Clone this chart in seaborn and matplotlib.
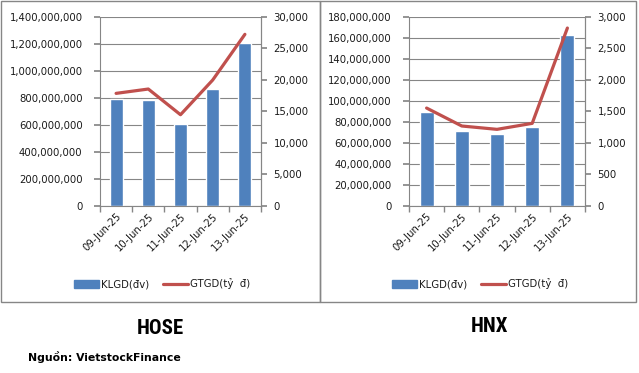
import matplotlib
matplotlib.use("Agg")
import matplotlib.pyplot as plt
import seaborn as sns
import pandas as pd
from matplotlib.patches import Rectangle
from matplotlib.lines import Line2D
from matplotlib.ticker import FuncFormatter, MultipleLocator

sns.set_theme(style="white")
plt.rcParams['font.family'] = ['DejaVu Sans']

# data
dates = ["09-Jun-25", "10-Jun-25", "11-Jun-25", "12-Jun-25", "13-Jun-25"]
hose_vol = [790e6, 783e6, 605e6, 864e6, 1205e6]
hose_val = [17830, 18520, 14440, 19950, 27200]
hnx_vol = [89.2e6, 71.1e6, 68.3e6, 74.9e6, 162.9e6]
hnx_val = [1550, 1265, 1212, 1307, 2820]

BLUE = "#4F81BD"
RED = "#C0504D"
GRID = "#868686"
TXT = "#1a1a1a"
NARROW = ["Liberation Sans Narrow", "DejaVu Sans Condensed", "Roboto Condensed",
          "Open Sans Condensed", "Arial Narrow", "DejaVu Sans"]

W, H = 639, 373
fig = plt.figure(figsize=(W / 100, H / 100), dpi=100)

comma = FuncFormatter(lambda v, p: f"{v:,.0f}")


def panel(x0, x1, vol, val, ymax, ystep, y2max, y2step, title, tx, ty, lx):
    ax = fig.add_axes([x0 / W, (H - 205.7) / H, (x1 - x0) / W, (205.7 - 16.7) / H])
    df = pd.DataFrame({"date": dates, "vol": vol, "val": val})
    sns.barplot(data=df, x="date", y="vol", color=BLUE, saturation=1, width=0.4, ax=ax)
    ax.set_ylim(0, ymax)
    ax.yaxis.set_major_locator(MultipleLocator(ystep))
    ax.yaxis.set_major_formatter(comma)
    ax.set_xlim(-0.5, 4.5)
    ax.grid(axis="y", color=GRID, lw=0.8)
    ax.set_axisbelow(True)
    ax.set_xlabel("")
    ax.set_ylabel("")
    ax2 = ax.twinx()
    sns.lineplot(x=list(range(5)), y=val, color=RED, lw=2.3, ax=ax2)
    ax2.set_ylim(0, y2max)
    ax2.yaxis.set_major_locator(MultipleLocator(y2step))
    ax2.yaxis.set_major_formatter(comma)
    for a in (ax, ax2):
        for s in a.spines.values():
            s.set_color(GRID)
            s.set_linewidth(0.8)
        a.spines["top"].set_visible(False)
    ax2.spines["left"].set_visible(False)
    ax2.spines["bottom"].set_visible(False)
    ax.tick_params(axis="y", left=True, length=4, color=GRID, labelsize=7.3, pad=8.5, labelcolor=TXT)
    ax2.tick_params(axis="y", right=True, length=4, color=GRID, labelsize=7.3, pad=5, labelcolor=TXT)
    ax.set_xticks(range(5))
    ax.set_xticklabels(dates, rotation=45, ha="right", rotation_mode="anchor", fontsize=7.3, color=TXT)
    ax.tick_params(axis="x", which="major", length=0, pad=4)
    ax.set_xticks([i - 0.5 for i in range(6)], minor=True)
    ax.tick_params(axis="x", which="minor", bottom=True, length=4, color=GRID)
    handles = [Rectangle((0, 0), 1, 1, color=BLUE), Line2D([], [], color=RED, lw=2.3)]
    fig.legend(handles, ["KLGD(đv)", "GTGD(tỷ  đ)"], loc="center", bbox_to_anchor=(lx / W, 1 - 284 / H),
               ncol=2, frameon=False, fontsize=7.3, handlelength=2.5, handleheight=0.8,
               columnspacing=1.3, handletextpad=0.2, labelcolor=TXT)
    fig.text(tx / W, 1 - ty / H, title, ha="center", va="center", fontsize=15, fontweight="bold",
             family=NARROW, fontstretch="condensed", color="black")


panel(100, 261, hose_vol, hose_val, 1.4e9, 2e8, 30000, 5000, "HOSE", 160, 328, 162)
panel(409, 585, hnx_vol, hnx_val, 1.8e8, 2e7, 3000, 500, "HNX", 490, 326, 480)

# panel borders
for bx0, bx1 in [(1, 320), (320, 636)]:
    fig.patches.append(Rectangle((bx0 / W, 1 - 302 / H), (bx1 - bx0) / W, 301 / H,
                                 transform=fig.transFigure, fill=False, ec=GRID, lw=1))

fig.text(28 / W, 1 - 357 / H, "Nguồn: VietstockFinance", ha="left", va="center",
         fontsize=7.8, fontweight="bold", color="black")

fig.savefig("out.png", dpi=100)
